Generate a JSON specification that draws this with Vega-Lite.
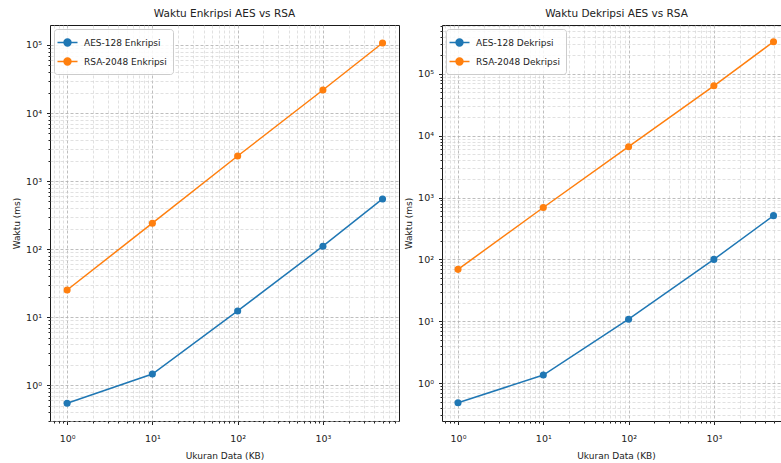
{
  "$schema": "https://vega.github.io/schema/vega-lite/v6.json",
  "padding": {"left": 12, "top": 8, "right": 0, "bottom": 0},
  "spacing": 4,
  "background": "white",
  "datasets": {
    "enc": [
      {"size": 1, "series": "AES-128 Enkripsi", "time": 0.54},
      {"size": 10, "series": "AES-128 Enkripsi", "time": 1.45},
      {"size": 100, "series": "AES-128 Enkripsi", "time": 12.3},
      {"size": 1000, "series": "AES-128 Enkripsi", "time": 110},
      {"size": 5000, "series": "AES-128 Enkripsi", "time": 545},
      {"size": 1, "series": "RSA-2048 Enkripsi", "time": 25},
      {"size": 10, "series": "RSA-2048 Enkripsi", "time": 240},
      {"size": 100, "series": "RSA-2048 Enkripsi", "time": 2330},
      {"size": 1000, "series": "RSA-2048 Enkripsi", "time": 21800},
      {"size": 5000, "series": "RSA-2048 Enkripsi", "time": 107000}
    ],
    "dec": [
      {"size": 1, "series": "AES-128 Dekripsi", "time": 0.48},
      {"size": 10, "series": "AES-128 Dekripsi", "time": 1.35},
      {"size": 100, "series": "AES-128 Dekripsi", "time": 10.8},
      {"size": 1000, "series": "AES-128 Dekripsi", "time": 100},
      {"size": 5000, "series": "AES-128 Dekripsi", "time": 510},
      {"size": 1, "series": "RSA-2048 Dekripsi", "time": 69},
      {"size": 10, "series": "RSA-2048 Dekripsi", "time": 690},
      {"size": 100, "series": "RSA-2048 Dekripsi", "time": 6640},
      {"size": 1000, "series": "RSA-2048 Dekripsi", "time": 64000},
      {"size": 5000, "series": "RSA-2048 Dekripsi", "time": 330000}
    ]
  },
  "config": {
    "font": "DejaVu Sans",
    "view": {"stroke": "#1a1a1a", "strokeWidth": 1},
    "axis": {
      "labelFontSize": 9.5, "titleFontSize": 9, "titleFontWeight": "normal",
      "labelColor": "#222", "titleColor": "#222", "tickColor": "#222",
      "domain": false, "labelFlush": false, "labelOverlap": false
    },
    "title": {"fontSize": 10.5, "fontWeight": "normal", "color": "#222", "offset": 6},
    "legend": {
      "orient": "top-left", "offset": 4, "padding": 6,
      "fillColor": "rgba(255,255,255,0.85)", "strokeColor": "#cccccc", "cornerRadius": 3,
      "labelFontSize": 9, "labelColor": "#222",
      "symbolType": "M-1.5,0L1.5,0M-0.52,0A0.52,0.52,0,1,0,0.52,0A0.52,0.52,0,1,0,-0.52,0Z",
      "symbolSize": 178, "symbolStrokeWidth": 1.5, "rowPadding": 5, "labelOffset": 9
    }
  },
  "resolve": {"scale": {"color": "independent"}, "legend": {"color": "independent"}},
  "hconcat": [
    {
      "title": "Waktu Enkripsi AES vs RSA",
      "width": 349, "height": 396,
      "data": {"name": "enc"},
      "resolve": {"axis": {"x": "independent", "y": "independent"}},
      "layer": [
        {
          "mark": {"type": "line", "strokeWidth": 1.5},
          "encoding": {
            "x": {"field": "size", "type": "quantitative",
              "scale": {"type": "log", "domain": [0.63, 7800], "nice": false},
              "axis": {"orient": "bottom", "values": [1, 10, 100, 1000],
                "labelExpr": "'10' + ['⁰','¹','²','³','⁴','⁵','⁶'][round(log(datum.value)/LN10)]",
                "title": "Ukuran Data (KB)", "grid": true, "gridColor": "#adadad", "gridDash": [3, 2], "gridWidth": 0.8,
                "tickSize": 3.5, "labelPadding": 9, "titlePadding": 8}},
            "y": {"field": "time", "type": "quantitative",
              "scale": {"type": "log", "domain": [0.296, 196800], "nice": false},
              "axis": {"orient": "left", "values": [1, 10, 100, 1000, 10000, 100000],
                "labelExpr": "'10' + ['⁰','¹','²','³','⁴','⁵','⁶'][round(log(datum.value)/LN10)]",
                "title": "Waktu (ms)", "grid": true, "gridColor": "#adadad", "gridDash": [3, 2], "gridWidth": 0.8,
                "tickSize": 3.5, "labelPadding": 5, "titlePadding": 4}},
            "color": {"field": "series", "type": "nominal",
              "scale": {"domain": ["AES-128 Enkripsi", "RSA-2048 Enkripsi"], "range": ["#1f77b4", "#ff7f0e"]},
              "legend": {"title": null,
                "encode": {"symbols": {"update": {
                  "fill": {"signal": "indexof(datum.value,'AES')==0 ? '#1f77b4' : '#ff7f0e'"},
                  "stroke": {"signal": "indexof(datum.value,'AES')==0 ? '#1f77b4' : '#ff7f0e'"},
                  "opacity": {"value": 1}}}}}}
          }
        },
        {
          "mark": {"type": "point", "filled": true, "size": 50, "opacity": 1},
          "encoding": {
            "x": {"field": "size", "type": "quantitative",
              "scale": {"type": "log", "domain": [0.63, 7800], "nice": false},
              "axis": {"orient": "bottom", "values": [0.7, 0.8, 0.9, 2, 3, 4, 5, 6, 7, 8, 9, 20, 30, 40, 50, 60, 70, 80, 90, 200, 300, 400, 500, 600, 700, 800, 900, 2000, 3000, 4000, 5000, 6000, 7000],
                "labels": false, "title": null, "grid": true, "gridColor": "#cccccc", "gridDash": [3, 2], "gridWidth": 0.6, "tickSize": 2}},
            "y": {"field": "time", "type": "quantitative",
              "scale": {"type": "log", "domain": [0.296, 196800], "nice": false},
              "axis": {"orient": "left", "values": [0.3, 0.4, 0.5, 0.6, 0.7, 0.8, 0.9, 2, 3, 4, 5, 6, 7, 8, 9, 20, 30, 40, 50, 60, 70, 80, 90, 200, 300, 400, 500, 600, 700, 800, 900, 2000, 3000, 4000, 5000, 6000, 7000, 8000, 9000, 20000, 30000, 40000, 50000, 60000, 70000, 80000, 90000],
                "labels": false, "title": null, "grid": true, "gridColor": "#cccccc", "gridDash": [3, 2], "gridWidth": 0.6, "tickSize": 2}},
            "color": {"field": "series", "type": "nominal"}
          }
        }
      ]
    },
    {
      "title": {"text": "Waktu Dekripsi AES vs RSA", "dx": 5},
      "width": 339, "height": 396,
      "data": {"name": "dec"},
      "resolve": {"axis": {"x": "independent", "y": "independent"}},
      "layer": [
        {
          "mark": {"type": "line", "strokeWidth": 1.5},
          "encoding": {
            "x": {"field": "size", "type": "quantitative",
              "scale": {"type": "log", "domain": [0.649, 6120], "nice": false},
              "axis": {"orient": "bottom", "values": [1, 10, 100, 1000],
                "labelExpr": "'10' + ['⁰','¹','²','³','⁴','⁵','⁶'][round(log(datum.value)/LN10)]",
                "title": "Ukuran Data (KB)", "titleX": 174, "grid": true, "gridColor": "#adadad", "gridDash": [3, 2], "gridWidth": 0.8,
                "tickSize": 3.5, "labelPadding": 9, "titlePadding": 8}},
            "y": {"field": "time", "type": "quantitative",
              "scale": {"type": "log", "domain": [0.244, 616000], "nice": false},
              "axis": {"orient": "left", "values": [1, 10, 100, 1000, 10000, 100000],
                "labelExpr": "'10' + ['⁰','¹','²','³','⁴','⁵','⁶'][round(log(datum.value)/LN10)]",
                "title": "Waktu (ms)", "grid": true, "gridColor": "#adadad", "gridDash": [3, 2], "gridWidth": 0.8,
                "tickSize": 3.5, "labelPadding": 5, "titlePadding": 4}},
            "color": {"field": "series", "type": "nominal",
              "scale": {"domain": ["AES-128 Dekripsi", "RSA-2048 Dekripsi"], "range": ["#1f77b4", "#ff7f0e"]},
              "legend": {"title": null,
                "encode": {"symbols": {"update": {
                  "fill": {"signal": "indexof(datum.value,'AES')==0 ? '#1f77b4' : '#ff7f0e'"},
                  "stroke": {"signal": "indexof(datum.value,'AES')==0 ? '#1f77b4' : '#ff7f0e'"},
                  "opacity": {"value": 1}}}}}}
          }
        },
        {
          "mark": {"type": "point", "filled": true, "size": 50, "opacity": 1},
          "encoding": {
            "x": {"field": "size", "type": "quantitative",
              "scale": {"type": "log", "domain": [0.649, 6120], "nice": false},
              "axis": {"orient": "bottom", "values": [0.7, 0.8, 0.9, 2, 3, 4, 5, 6, 7, 8, 9, 20, 30, 40, 50, 60, 70, 80, 90, 200, 300, 400, 500, 600, 700, 800, 900, 2000, 3000, 4000, 5000],
                "labels": false, "title": null, "grid": true, "gridColor": "#cccccc", "gridDash": [3, 2], "gridWidth": 0.6, "tickSize": 2}},
            "y": {"field": "time", "type": "quantitative",
              "scale": {"type": "log", "domain": [0.244, 616000], "nice": false},
              "axis": {"orient": "left", "values": [0.3, 0.4, 0.5, 0.6, 0.7, 0.8, 0.9, 2, 3, 4, 5, 6, 7, 8, 9, 20, 30, 40, 50, 60, 70, 80, 90, 200, 300, 400, 500, 600, 700, 800, 900, 2000, 3000, 4000, 5000, 6000, 7000, 8000, 9000, 20000, 30000, 40000, 50000, 60000, 70000, 80000, 90000, 200000, 300000, 400000, 500000, 600000],
                "labels": false, "title": null, "grid": true, "gridColor": "#cccccc", "gridDash": [3, 2], "gridWidth": 0.6, "tickSize": 2}},
            "color": {"field": "series", "type": "nominal"}
          }
        }
      ]
    }
  ]
}
